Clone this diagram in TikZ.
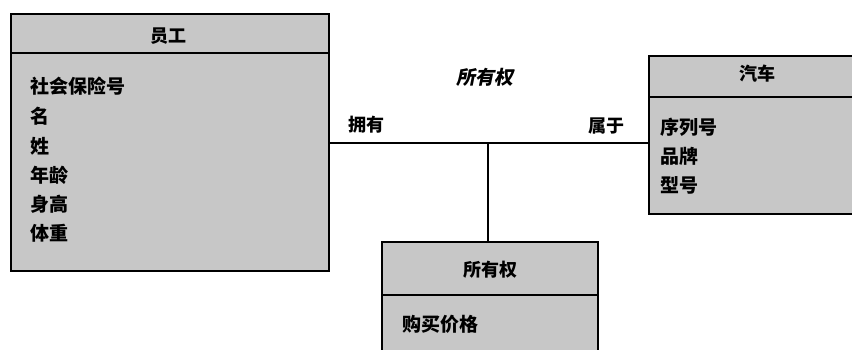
\documentclass[tikz,border=0pt]{standalone}
\usepackage{fontspec}
\newfontfamily\cjk{Noto Sans CJK SC}
\newfontfamily\cjkit[FakeSlant=0.2]{Noto Sans CJK SC}
\begin{document}
\begin{tikzpicture}[x=1pt,y=-1pt,
  entity/.style={draw=black, line width=2pt, fill=black!22, anchor=north west, inner sep=0pt},
  sep/.style={line width=1.6pt},
  conn/.style={line width=1.3pt},
  attr/.style={anchor=west, inner sep=0pt, font=\cjk\bfseries\fontsize{19}{21}\selectfont},
  title/.style={inner sep=0pt, font=\cjk\bfseries\fontsize{18}{20}\selectfont},
  role/.style={inner sep=0pt, font=\cjk\bfseries\fontsize{18}{20}\selectfont},
  assoc/.style={inner sep=0pt, font=\cjkit\bfseries\fontsize{19}{21}\selectfont}]
\useasboundingbox (0,0) rectangle (852,349);
% entities
\node[entity, minimum width=318pt, minimum height=257pt] (emp) at (10,13) {};
\node[entity, minimum width=215pt, minimum height=158pt] (car) at (648,55) {};
\node[entity, minimum width=216pt, minimum height=130pt] (own) at (381,241) {};
% header separators
\draw[sep] ([yshift=-40pt]emp.north west) -- ([yshift=-40pt]emp.north east);
\draw[sep] ([yshift=-42pt]car.north west) -- ([yshift=-42pt]car.north east);
\draw[sep] ([yshift=-54pt]own.north west) -- ([yshift=-54pt]own.north east);
% titles
\node[title] (empt) at (168,36) {员工};
\node[title] (cart) at (757,74) {汽车};
\node[title] (ownt) at (490,270) {所有权};
% attributes
\node[attr] (e1) at (30,86) {社会保险号};
\node[attr] (e2) at (30,116) {名};
\node[attr] (e3) at (30,146) {姓};
\node[attr] (e4) at (30,175) {年龄};
\node[attr] (e5) at (30,204) {身高};
\node[attr] (e6) at (30,233) {体重};
\node[attr] (c1) at (660,127) {序列号};
\node[attr] (c2) at (660,156) {品牌};
\node[attr] (c3) at (660,185) {型号};
\node[attr] (o1) at (402,324) {购买价格};
% connectors
\coordinate (j) at (488,143);
\draw[conn] (emp.east |- j) -- (car.west |- j);
\draw[conn] (j) -- (own.north -| j);
% labels
\node[assoc] (al) at (485,77) {所有权};
\node[role] (r1) at (366,125) {拥有};
\node[role] (r2) at (606,126) {属于};
\end{tikzpicture}
\end{document}
